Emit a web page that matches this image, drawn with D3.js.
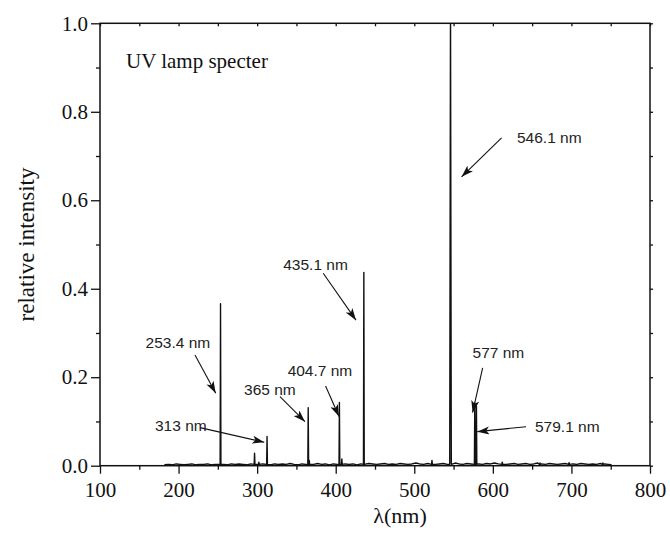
<!DOCTYPE html>
<html>
<head>
<meta charset="utf-8">
<script src="https://cdn.jsdelivr.net/npm/d3@7"></script>
<style>
    body { margin: 0; background: #fff; }
    svg { display: block; }
</style>
</head>
<body>
<svg id="chart" width="670" height="538"></svg>
<script>
// tick labels
const xTicks = [100, 200, 300, 400, 500, 600, 700, 800];
const xMinorTicks = [150, 250, 350, 450, 550, 650, 750];
const yTicks = [0.0, 0.2, 0.4, 0.6, 0.8, 1.0];
const yMinorTicks = [0.1, 0.3, 0.5, 0.7, 0.9];

// emission lines (nm, relative intensity)
const peakNm =     [253.4, 296.7, 302.2, 312.6, 365.0, 366.3, 404.7, 407.8, 435.8, 522.5, 546.1, 577.0, 579.1, 612.0, 660.0, 697.0, 740.0];
const peakHeight = [0.366, 0.028, 0.008, 0.066, 0.131, 0.012, 0.143, 0.015, 0.437, 0.012, 1.050, 0.142, 0.135, 0.008, 0.006, 0.007, 0.006];
const peakHalfWidth = [0.5, 0.5, 0.5, 0.5, 0.5, 0.5, 0.5, 0.5, 0.5, 0.5, 1.0, 0.5, 0.5, 0.5, 0.5, 0.5, 0.5];

// detector baseline, sampled every 5 nm from 182 nm
const baseStart = 182;
const baseStep = 5;
const baseValues = [
    0.002, 0.003, 0.002, 0.004, 0.003, 0.002, 0.003, 0.004, 0.002, 0.003,
    0.003, 0.004, 0.002, 0.003, 0.005, 0.003, 0.002, 0.004, 0.003, 0.004,
    0.003, 0.002, 0.004, 0.005, 0.003, 0.004, 0.003, 0.002, 0.004, 0.003,
    0.004, 0.003, 0.005, 0.003, 0.002, 0.004, 0.003, 0.004, 0.003, 0.005,
    0.003, 0.004, 0.002, 0.004, 0.003, 0.005, 0.004, 0.003, 0.004, 0.002,
    0.004, 0.003, 0.005, 0.004, 0.003, 0.004, 0.005, 0.003, 0.004, 0.003,
    0.005, 0.004, 0.003, 0.004, 0.006, 0.004, 0.003, 0.005, 0.004, 0.003,
    0.004, 0.005, 0.003, 0.004, 0.006, 0.004, 0.003, 0.005, 0.004, 0.006,
    0.004, 0.003, 0.005, 0.004, 0.006, 0.004, 0.005, 0.003, 0.004, 0.005,
    0.003, 0.004, 0.005, 0.003, 0.004, 0.006, 0.004, 0.003, 0.005, 0.004,
    0.003, 0.004, 0.005, 0.003, 0.004, 0.003, 0.005, 0.004, 0.003, 0.004,
    0.003, 0.005, 0.004, 0.003
];
const baseEnd = [751, 0.002];

// annotations: label, label position, arrow tail, arrow head (all in data units)
const noteText = ["546.1 nm", "253.4 nm", "313 nm", "365 nm", "404.7 nm", "435.1 nm", "577 nm", "579.1 nm"];
const noteAt =   [[630.7, 0.741], [158.0, 0.278], [170.0, 0.090], [283.3, 0.173], [338.8, 0.215], [333.2, 0.454], [574.2, 0.255], [653.6, 0.088]];
const arrowFrom = [[611.1, 0.741], [220.9, 0.250], [227.3, 0.086], [329.1, 0.156], [387.1, 0.180], [384.1, 0.435], [587.0, 0.221], [642.2, 0.088]];
const arrowTo =   [[560.2, 0.653], [247.3, 0.164], [309.1, 0.053], [360.9, 0.0995], [404.2, 0.111], [425.8, 0.329], [574.2, 0.120], [580.2, 0.077]];

function buildSpectrum() {
    let pts = [];
    baseValues.forEach(function (v, i) {
        const nm = baseStart + i * baseStep;
        const nearPeak = peakNm.some(function (p) { return Math.abs(p - nm) < 1.5; });
        if (!nearPeak) pts.push([nm, v]);
    });
    pts.push(baseEnd);
    peakNm.forEach(function (p, i) {
        pts.push([p - peakHalfWidth[i], 0.003]);
        pts.push([p, peakHeight[i]]);
        pts.push([p + peakHalfWidth[i], 0.003]);
    });
    pts.sort(function (a, b) { return a[0] - b[0]; });
    return pts;
}

const svg = d3.select("#chart");
const margin = {top: 23.3, right: 20, bottom: 72.3, left: 100};
const width = +svg.attr("width") - margin.left - margin.right;
const height = +svg.attr("height") - margin.top - margin.bottom;

const x = d3.scaleLinear().domain([100, 800]).range([0, width]);
const y = d3.scaleLinear().domain([0, 1]).range([height, 0]);

const g = svg.append("g").attr("transform", "translate(" + margin.left + "," + margin.top + ")");

svg.append("defs").append("clipPath").attr("id", "plot-clip")
    .append("rect").attr("width", width).attr("height", height);

svg.select("defs").append("marker")
    .attr("id", "head")
    .attr("markerUnits", "userSpaceOnUse")
    .attr("viewBox", "0 0 12 8")
    .attr("refX", 12).attr("refY", 4)
    .attr("markerWidth", 12).attr("markerHeight", 8)
    .attr("orient", "auto")
    .append("path").attr("d", "M0,0 L12,4 L0,8 L3,4 Z").attr("fill", "#111");

// axes
const serif = "'Liberation Serif', 'Times New Roman', serif";

g.append("g").attr("transform", "translate(0," + height + ")")
    .call(d3.axisBottom(x).tickValues(xTicks).tickSize(8).tickPadding(8).tickFormat(d3.format("d")));
g.append("g").attr("transform", "translate(0," + height + ")")
    .call(d3.axisBottom(x).tickValues(xMinorTicks).tickSize(4).tickFormat(""));

g.append("g")
    .call(d3.axisLeft(y).tickValues(yTicks).tickSize(9).tickPadding(3).tickFormat(d3.format(".1f")));
g.append("g")
    .call(d3.axisLeft(y).tickValues(yMinorTicks).tickSize(4).tickFormat(""));

g.append("g")
    .call(d3.axisTop(x).tickValues(xTicks.concat(xMinorTicks)).tickSize(-3).tickFormat(""));
g.append("g").attr("transform", "translate(" + width + ",0)")
    .call(d3.axisRight(y).tickValues(yTicks.concat(yMinorTicks)).tickSize(3).tickFormat(""));

g.selectAll(".domain").remove();
g.selectAll(".tick line").attr("stroke", "#111").attr("stroke-width", 1.3);
g.selectAll(".tick text")
    .attr("fill", "#111")
    .style("font-family", serif)
    .style("font-size", "21px");

g.append("rect")
    .attr("width", width).attr("height", height)
    .attr("fill", "none").attr("stroke", "#111").attr("stroke-width", 1.5);

// spectrum
const line = d3.line()
    .x(function (d) { return x(d[0]); })
    .y(function (d) { return y(d[1]); });

g.append("path")
    .datum(buildSpectrum())
    .attr("clip-path", "url(#plot-clip)")
    .attr("d", line)
    .attr("fill", "none")
    .attr("stroke", "#111")
    .attr("stroke-width", 1.4)
    .attr("stroke-linejoin", "round");

// annotations
const notes = g.append("g");
noteText.forEach(function (t, i) {
    notes.append("line")
        .attr("x1", x(arrowFrom[i][0])).attr("y1", y(arrowFrom[i][1]))
        .attr("x2", x(arrowTo[i][0])).attr("y2", y(arrowTo[i][1]))
        .attr("stroke", "#111").attr("stroke-width", 1.1)
        .attr("marker-end", "url(#head)");
    notes.append("text")
        .attr("x", x(noteAt[i][0])).attr("y", y(noteAt[i][1]))
        .attr("dy", "0.36em")
        .attr("fill", "#222")
        .style("font-family", "'Liberation Sans', Arial, sans-serif")
        .style("font-size", "15.5px")
        .text(t);
});

g.append("text")
    .attr("x", 26).attr("y", 37)
    .attr("dy", "0.36em")
    .attr("fill", "#111")
    .style("font-family", serif)
    .style("font-size", "21px")
    .text("UV lamp specter");

// axis titles
svg.append("text")
    .attr("x", 400).attr("y", 523)
    .attr("text-anchor", "middle")
    .attr("fill", "#111")
    .style("font-family", serif)
    .style("font-size", "22px")
    .text("λ(nm)");

svg.append("text")
    .attr("transform", "translate(34," + (margin.top + height / 2) + ") rotate(-90)")
    .attr("text-anchor", "middle")
    .attr("fill", "#111")
    .style("font-family", serif)
    .style("font-size", "23px")
    .text("relative intensity");
</script>
</body>
</html>
